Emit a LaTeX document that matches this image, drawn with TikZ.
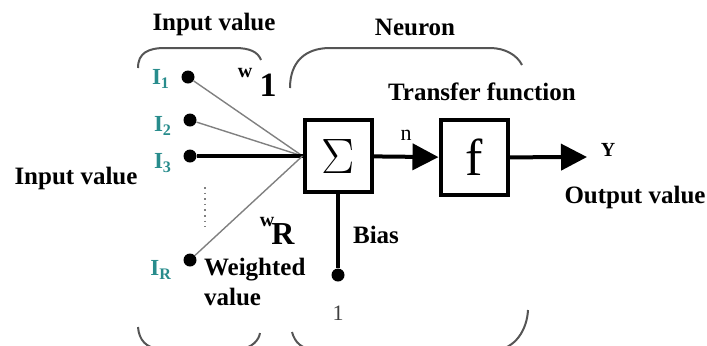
\documentclass[tikz,border=0pt]{standalone}
\usepackage{fontspec}
\setmainfont{Liberation Serif}
\usetikzlibrary{arrows.meta,positioning}
\definecolor{inteal}{RGB}{40,140,140}
\definecolor{bracegray}{RGB}{85,85,85}

\begin{document}
\begin{tikzpicture}[x=0.5pt,y=-0.5pt,
  block/.style={draw,line width=2pt,minimum width=33.5pt,minimum height=36pt,inner sep=0pt},
  inp/.style={circle,fill,inner sep=0pt,minimum size=6.5pt},
  lbl/.style={font=\fontsize{12.5}{15}\selectfont\bfseries},
  ilbl/.style={font=\fontsize{11.5}{12}\selectfont\bfseries,text=inteal},
  wire/.style={draw=gray,line width=0.7pt},
  bold wire/.style={line width=2pt},
  brk/.style={draw=bracegray,line width=1pt},
  sig/.style={-{Triangle[length=13pt,width=13pt]},line width=2pt}]
\useasboundingbox (0,0) rectangle (707,345);

% blocks
\node[block] (sum) at (338,156) {\fontsize{30}{30}\selectfont$\Sigma$};
\node[block,minimum height=37.5pt] (tf) at (474,157.5) {\fontsize{26}{26}\selectfont f};
\coordinate (out) at (587,157);

% inputs
\node[inp] (i1) at (188,77) {};
\node[inp] (i2) at (190,120) {};
\node[inp] (i3) at (190,156) {};
\node[inp] (ir) at (190,260) {};
\node[ilbl,left=2pt of i1,yshift=-1pt] (l1) {I\textsubscript{1}};
\node[ilbl,left=2pt of i2,yshift=-3pt] (l2) {I\textsubscript{2}};
\node[ilbl,left=2pt of i3,yshift=-3.5pt] (l3) {I\textsubscript{3}};
\node[ilbl,left=2pt of ir,yshift=-5pt] (lr) {I\textsubscript{R}};
\draw[dotted,gray,line width=0.8pt] (205,187) -- (205,227);

\draw[wire] (i1) -- (sum.west);
\draw[wire] (i2) -- (sum.west);
\draw[bold wire] (i3) -- (sum.west);
\draw[wire] (ir) -- (sum.west);

% weights
\node[font=\fontsize{10}{10}\selectfont\bfseries] (w1) at (245,73) {w};
\node[font=\fontsize{17}{18}\selectfont\bfseries] (n1) at (268,85) {1};
\node[font=\fontsize{10}{10}\selectfont\bfseries] (wr) at (267,222) {w};
\node[font=\fontsize{16}{18}\selectfont\bfseries] (nr) at (283,234) {R};

% bias
\node[inp] (b) at (338,275) {};
\draw[bold wire] (sum.south) -- (b);
\node[font=\fontsize{11}{12}\selectfont,text=darkgray] (one) at (338,313) {1};
\node[lbl] (bias) at (376,235) {Bias};

% signal flow
\draw[sig] (sum) -- node[above=4pt,font=\fontsize{11}{12}\selectfont] (n) {n} (tf);
\draw[sig] (tf) -- (out);
\node[font=\fontsize{10}{12}\selectfont\bfseries] (y) at (608,150) {Y};

% texts
\node[lbl] (top in) at (214,24) {Input value};
\node[lbl] (neuron) at (415,27) {Neuron};
\node[lbl] (left in) at (76,178) {Input value};
\node[lbl] (transfer) at (482,92) {Transfer function};
\node[lbl] (output) at (635,197) {Output value};
\node[lbl,align=left,anchor=west] (weighted) at (197,282) {Weighted\\value};

% brackets
\draw[brk] (138,68) .. controls (138,53) and (148,48) .. (165,48) -- (235,48)
  .. controls (250,48) and (258,52) .. (261,60);
\draw[brk] (290,88) .. controls (290,62) and (305,48) .. (330,48) -- (490,48)
  .. controls (505,48) and (517,55) .. (522,65);
\draw[brk] (138,327) .. controls (139,340) and (146,348) .. (160,349) -- (240,349)
  .. controls (252,348) and (259,340) .. (260,333);
\draw[brk] (292,332) .. controls (295,343) and (302,349) .. (315,350) -- (495,350)
  .. controls (515,349) and (527,330) .. (528,310);
\end{tikzpicture}
\end{document}
